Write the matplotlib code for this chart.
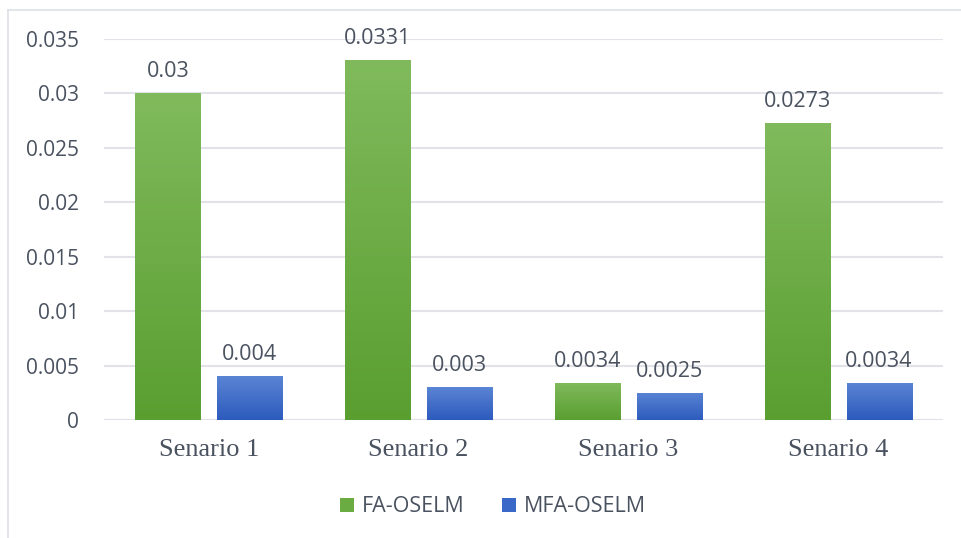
import numpy as np
import matplotlib.pyplot as plt
from matplotlib.colors import LinearSegmentedColormap
from matplotlib.lines import Line2D
from matplotlib.patches import Patch

scenarios = ['Senario 1', 'Senario 2', 'Senario 3', 'Senario 4']
fa_oselm = [0.03, 0.0331, 0.0034, 0.0273]
mfa_oselm = [0.004, 0.003, 0.0025, 0.0034]
fa_labels = ['0.03', '0.0331', '0.0034', '0.0273']
mfa_labels = ['0.004', '0.003', '0.0025', '0.0034']
yticks = [0, 0.005, 0.01, 0.015, 0.02, 0.025, 0.03, 0.035]
ytick_labels = ['0', '0.005', '0.01', '0.015', '0.02', '0.025', '0.03', '0.035']

text_col = '#4a5260'
green_top, green_bot = '#80ba5c', '#5a9e30'
blue_top, blue_bot = '#5a84d4', '#2d5bbd'

fig = plt.figure(figsize=(9.62, 5.38), dpi=100)
ax = fig.add_axes([104 / 962, 1 - 420 / 538, 839 / 962, 381 / 538])

x = np.arange(len(scenarios))
w = 0.31
off = 0.195


def grad_bars(xs, vals, top, bot):
    bars = ax.bar(xs, vals, width=w, color='none', edgecolor='none', zorder=3)
    cmap = LinearSegmentedColormap.from_list('g', [bot, top])
    grad = np.linspace(0, 1, 256).reshape(-1, 1)
    for b in bars:
        x0, y0 = b.get_x(), b.get_y()
        im = ax.imshow(grad, cmap=cmap, aspect='auto', origin='lower',
                       extent=[x0, x0 + b.get_width(), y0, y0 + b.get_height()],
                       zorder=3)
        im.set_clip_path(b)
    return bars


b1 = grad_bars(x - off, fa_oselm, green_top, green_bot)
b2 = grad_bars(x + off, mfa_oselm, blue_top, blue_bot)

for bars, labs in ((b1, fa_labels), (b2, mfa_labels)):
    for b, lab in zip(bars, labs):
        ax.annotate(lab, (b.get_x() + b.get_width() / 2, b.get_height()),
                    xytext=(0, 8), textcoords='offset points', ha='center',
                    va='bottom', fontsize=15.5, color=text_col, family='Open Sans')

ax.set_xlim(-0.5, 3.5)
ax.set_ylim(0, 0.035)
ax.set_yticks(yticks)
ax.set_yticklabels(ytick_labels, family='Open Sans', fontsize=15, color=text_col)
ax.set_xticks(x)
ax.set_xticklabels(scenarios, family='Liberation Serif', fontsize=19, color=text_col)
ax.tick_params(axis='both', length=0)
ax.tick_params(axis='y', pad=18)
ax.tick_params(axis='x', pad=14)
ax.grid(axis='y', color='#e1e3e8', linewidth=1.5, zorder=0)
ax.set_axisbelow(True)
for s in ax.spines.values():
    s.set_visible(False)
ax.axhline(0, color='#dfe2e7', linewidth=1.5, zorder=2)

handles = [Patch(facecolor='#6aab42', label='FA-OSELM'),
           Patch(facecolor='#3a68c8', label='MFA-OSELM')]
fig.legend(handles=handles, loc='center', bbox_to_anchor=(493 / 962, 1 - 507 / 538),
           ncol=2, frameon=False, prop={'family': 'Open Sans', 'size': 15.5},
           labelcolor=text_col, handlelength=0.65, handleheight=0.65,
           handletextpad=0.4, columnspacing=1.7)

# outer frame (left and top edges only visible)
fig.add_artist(Line2D([8 / 962, 8 / 962], [0, 1 - 10 / 538], color='#dde1e8',
                      linewidth=1.2, transform=fig.transFigure))
fig.add_artist(Line2D([8 / 962, 1], [1 - 10 / 538, 1 - 10 / 538], color='#dde1e8',
                      linewidth=1.2, transform=fig.transFigure))

fig.savefig('out.png', dpi=100)
